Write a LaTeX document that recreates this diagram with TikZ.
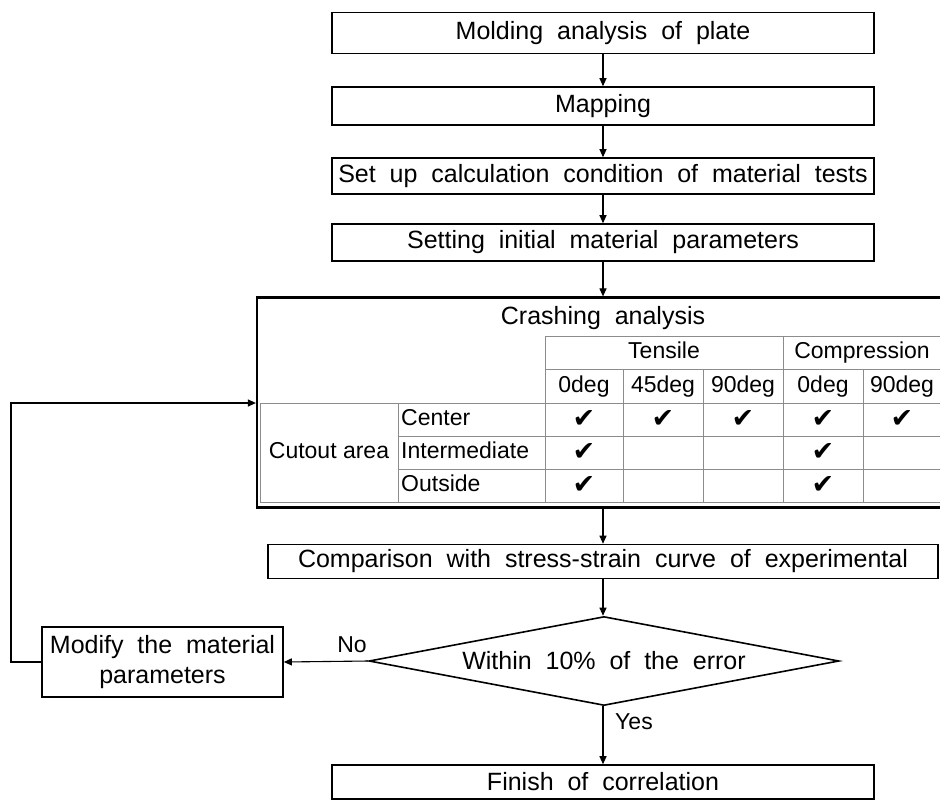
\documentclass[tikz,border=0pt]{standalone}
\usepackage{fontspec}
\setmainfont{Liberation Sans}[WordSpace=2.0]
\newfontfamily\tablefont{Liberation Sans}
\newfontfamily\checkfont{DejaVu Sans}
\usetikzlibrary{shapes.geometric,arrows.meta}

\begin{document}
\begin{tikzpicture}[x=1pt, y=-1pt,
    box/.style={draw, line width=1.6pt, inner sep=0pt, align=center,
        font=\fontsize{25}{30}\selectfont},
    arr/.style={-{Triangle[length=8pt,width=7pt]}, line width=1.1pt},
    grid/.style={draw=black!45, line width=0.9pt},
    cell/.style={inner sep=0pt, text height=17pt, text depth=5pt,
        font=\tablefont\fontsize{23}{26}\selectfont},
    tick/.style={inner sep=0pt, font=\checkfont\fontsize{27}{28}\selectfont}]
    \useasboundingbox (0,0) rectangle (940,801);

    % main chain
    \node[box, minimum width=542, minimum height=41] (mold) at (603,33) {Molding analysis of plate};
    \node[box, minimum width=542, minimum height=38] (map) at (603,106) {Mapping};
    \node[box, minimum width=542, minimum height=36] (cond) at (603,176) {Set up calculation condition of material tests};
    \node[box, minimum width=542, minimum height=37] (init) at (603,242.5) {Setting initial material parameters};
    \node[box, line width=2.2pt, minimum width=691, minimum height=210] (crash) at (602.5,402.5) {};
    \node[box, draw=none] (crashtitle) at (603,318) {Crashing analysis};
    \node[box, minimum width=670, minimum height=34] (comp) at (603,561.5) {Comparison with stress-strain curve of experimental};
    \node[box, diamond, aspect=5.3, minimum width=470, minimum height=89] (err) at (604,661) {Within 10\% of the error};
    \node[box, minimum width=241, minimum height=70] (modify) at (162.5,662) {Modify the material\\parameters};
    \node[box, minimum width=542, minimum height=34] (finish) at (603,782) {Finish of correlation};

    % test matrix
    \draw[grid] (545,336) -- (945,336) (545,369) -- (945,369)
        (260,403) -- (945,403) (260,502) -- (945,502);
    \foreach \y in {436,469}
        \draw[grid] (398,\y) -- (945,\y);
    \foreach \x in {260,398}
        \draw[grid] (\x,403) -- (\x,502);
    \foreach \x in {545,783}
        \draw[grid] (\x,336) -- (\x,502);
    \foreach \x in {623,703,863}
        \draw[grid] (\x,369) -- (\x,502);

    \node[cell] (tens) at (664,352) {Tensile};
    \node[cell] (compr) at (862,352) {Compression};
    \node[cell] (t0) at (584,386) {0deg};
    \node[cell] (t45) at (663,386) {45deg};
    \node[cell] (t90) at (743,386) {90deg};
    \node[cell] (c0) at (823,386) {0deg};
    \node[cell] (c90) at (902,386) {90deg};
    \node[cell] (area) at (329,452.5) {Cutout area};
    \node[cell, anchor=west] (center) at (401,419.5) {Center};
    \node[cell, anchor=west] (inter) at (401,452.5) {Intermediate};
    \node[cell, anchor=west] (outside) at (401,485.5) {Outside};

    \foreach \x in {584,663,743,823,902}
        \node[tick] at (\x,419) {✔};
    \foreach \y in {452,485} {
        \node[tick] at (584,\y) {✔};
        \node[tick] at (823,\y) {✔};
    }

    % connectors
    \draw[arr] (mold) -- (map);
    \draw[arr] (map) -- (cond);
    \draw[arr] (cond) -- (init);
    \draw[arr] (init.south) -- (init.south |- crash.north);
    \draw[arr] (comp.north |- crash.south) -- (comp.north);
    \draw[arr] (comp.south) -- (comp.south |- err.north);
    \draw[arr] (err.west) -- (modify.east);
    \draw[arr] (err.south -| finish.north) -- (finish.north);
    \coordinate (back) at (11,403);
    \draw[arr] (modify.west) -| (back) -- (back -| crash.west);

    \node[cell] (no) at (352,646) {No};
    \node[cell] (yes) at (634,723) {Yes};
\end{tikzpicture}
\end{document}
